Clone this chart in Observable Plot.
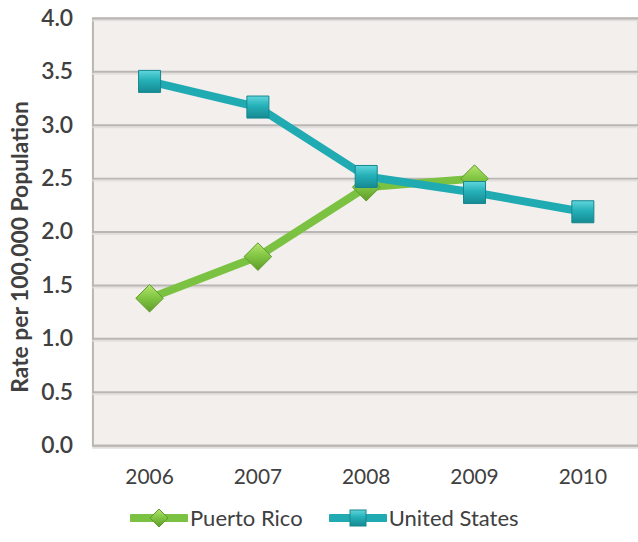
<!DOCTYPE html>
<html>
<head>
<meta charset="utf-8">
<script src="https://cdn.jsdelivr.net/npm/d3@7"></script>
<script src="https://cdn.jsdelivr.net/npm/@observablehq/plot@0.6"></script>
<style>
  html, body { margin: 0; padding: 0; background: #fff; overflow: hidden; }
  #chart { width: 638px; height: 542px; overflow: hidden; position: relative; }
  .legend { display: flex; align-items: center; height: 42px; padding-left: 130px;
            font-family: Lato, sans-serif; font-size: 22px; color: #404040; }
  .legend .item { display: flex; align-items: center; margin-right: 26px; }
  .legend svg { display: block; margin-right: 2px; }
</style>
</head>
<body>
<div id="chart"></div>
<script>
// Rate per 100,000 population, by year
const years = [2006, 2007, 2008, 2009, 2010];
const puertoRico = [1.38, 1.77, 2.42, 2.50, null];
const unitedStates = [3.41, 3.17, 2.52, 2.37, 2.19];
const yTicks = [0, 0.5, 1, 1.5, 2, 2.5, 3, 3.5, 4];
const seriesNames = ["Puerto Rico", "United States"];
const yTitle = "Rate per 100,000 Population";

const prColor = "#7cc242";
const usColor = "#20aab2";

const rows = [];
years.forEach((year, i) => {
  if (puertoRico[i] != null) rows.push({series: seriesNames[0], year, value: puertoRico[i]});
  if (unitedStates[i] != null) rows.push({series: seriesNames[1], year, value: unitedStates[i]});
});
const pr = rows.filter(d => d.series === seriesNames[0]);
const us = rows.filter(d => d.series === seriesNames[1]);

const chart = Plot.plot({
  width: 642,
  height: 500,
  marginLeft: 93,
  marginRight: 0,
  marginTop: 18,
  marginBottom: 52,
  style: {fontFamily: "Lato, sans-serif", fontSize: "21px", color: "#404040", background: "transparent", overflow: "visible"},
  x: {type: "point", domain: years, padding: 0.5},
  y: {domain: [0, 4]},
  marks: [
    Plot.frame({fill: "#f2efec", stroke: "#b9b6b3", strokeWidth: 2}),
    Plot.ruleY(yTicks, {stroke: "#e2dfdc", strokeWidth: 2, dy: 2}),
    Plot.ruleY(yTicks, {stroke: "#b9b6b3", strokeWidth: 2}),
    Plot.axisX({tickSize: 0, tickPadding: 24, label: null, tickFormat: d => String(d)}),
    Plot.axisY({ticks: yTicks, tickSize: 0, tickPadding: 20, label: null, tickFormat: d3.format(".1f"), fontSize: 23, fontWeight: 600}),
    Plot.text([yTitle], {frameAnchor: "left", textAnchor: "middle", dx: -73, dy: 15, rotate: -90, text: d => d, fontWeight: "bold", fontSize: 23, fill: "#404040"}),
    Plot.line(pr, {x: "year", y: "value", stroke: prColor, strokeWidth: 8, strokeLinejoin: "round"}),
    Plot.line(us, {x: "year", y: "value", stroke: usColor, strokeWidth: 8, strokeLinejoin: "round"}),
    Plot.dot(pr, {x: "year", y: "value", symbol: "diamond2", r: 12.5, fill: "url(#prGrad)", stroke: "#5f9a2c", strokeWidth: 1}),
    Plot.dot(us, {x: "year", y: "value", symbol: "square", r: 12.5, fill: "url(#usGrad)", stroke: "#16868d", strokeWidth: 1})
  ]
});

// gradient fills for the bevelled markers
const defs = d3.select(chart).insert("defs", ":first-child");
function grad(id, top, mid, bottom) {
  const g = defs.append("linearGradient").attr("id", id).attr("x1", 0).attr("y1", 0).attr("x2", 0).attr("y2", 1);
  g.append("stop").attr("offset", "0%").attr("stop-color", top);
  g.append("stop").attr("offset", "45%").attr("stop-color", mid);
  g.append("stop").attr("offset", "100%").attr("stop-color", bottom);
}
grad("prGrad", "#b4e46e", "#84c845", "#5e9c2a");
grad("usGrad", "#5fd6dc", "#25b0b8", "#168a92");

const root = document.getElementById("chart");
root.appendChild(chart);

// legend below the plot
const legend = document.createElement("div");
legend.className = "legend";
[[seriesNames[0], prColor, "diamond"], [seriesNames[1], usColor, "square"]].forEach(([name, color, shape]) => {
  const item = document.createElement("div");
  item.className = "item";
  const sw = d3.create("svg").attr("width", 58).attr("height", 26);
  sw.append("line").attr("x1", 2).attr("x2", 56).attr("y1", 13).attr("y2", 13)
    .attr("stroke", color).attr("stroke-width", 8).attr("stroke-linecap", "round");
  if (shape === "diamond") {
    sw.append("path").attr("d", "M29,4L38,13L29,22L20,13Z").attr("fill", "url(#prGrad)").attr("stroke", "#5f9a2c");
  } else {
    sw.append("rect").attr("x", 21).attr("y", 5).attr("width", 16).attr("height", 16).attr("fill", "url(#usGrad)").attr("stroke", "#16868d");
  }
  item.appendChild(sw.node());
  const label = document.createElement("span");
  label.textContent = name;
  item.appendChild(label);
  legend.appendChild(item);
});
root.appendChild(legend);
</script>
</body>
</html>
